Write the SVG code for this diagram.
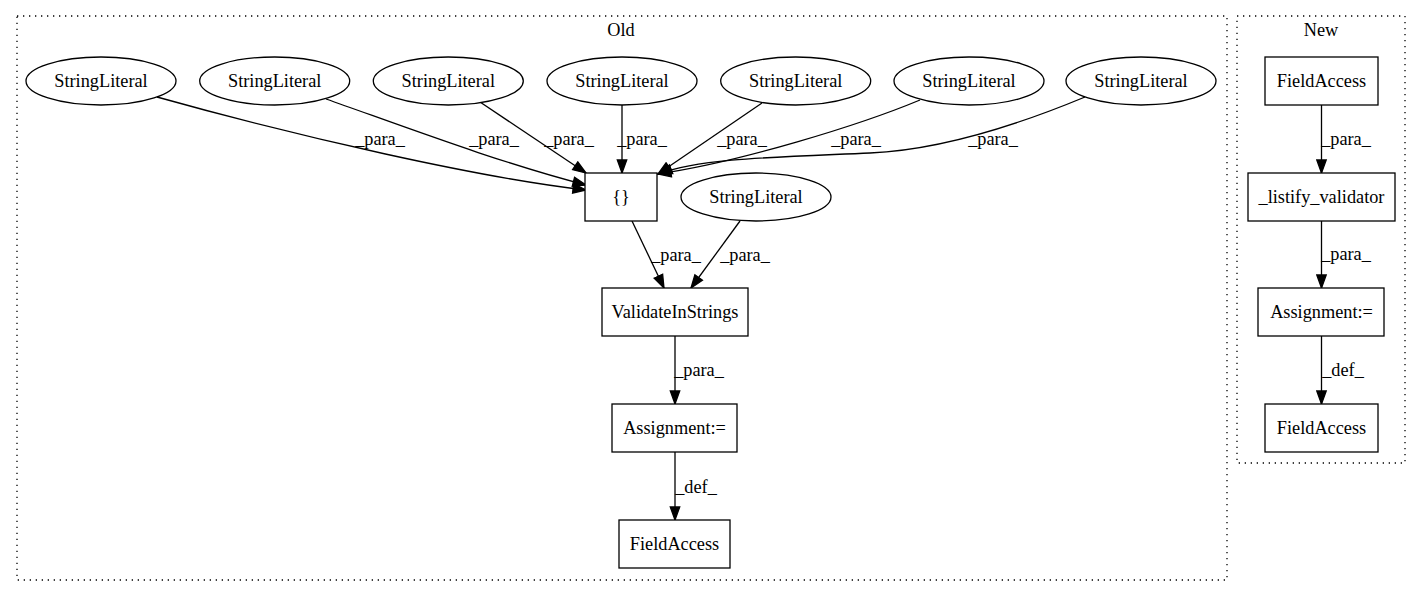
<svg xmlns="http://www.w3.org/2000/svg" width="1421" height="596" viewBox="0 0 1421 596">
  <style>
    text { font-family: "Liberation Serif", "Times New Roman", serif; font-size: 18.3px; fill: #000; text-anchor: middle; }
    .cluster { fill: none; stroke: #000; stroke-width: 1.3; stroke-dasharray: 1.3 4.7; }
    .node { fill: #fff; stroke: #000; stroke-width: 1.3; }
    .edge { fill: none; stroke: #000; stroke-width: 1.3; marker-end: url(#arrow); }
  </style>
  <defs>
    <marker id="arrow" markerUnits="userSpaceOnUse" viewBox="-1 -6 15 12" markerWidth="15" markerHeight="12" refX="13" refY="0" orient="auto">
      <path d="M0,-4.7 L13,0 L0,4.7 Z" fill="#000" stroke="#000" stroke-width="1.3"/>
    </marker>
  </defs>
  <rect width="1421" height="596" fill="#fff"/>

  <!-- clusters -->
  <g id="cluster-old">
    <rect class="cluster" x="17" y="16" width="1210" height="564"/>
    <text x="621" y="36">Old</text>
  </g>
  <g id="cluster-new">
    <rect class="cluster" x="1237" y="16" width="168" height="447"/>
    <text x="1321" y="36">New</text>
  </g>

  <!-- connectors -->
  <g id="edges">
    <path class="edge" d="M157,97 C300,137 480,178 586,190"/>
    <path class="edge" d="M326,99 C400,125 500,163 586,185"/>
    <path class="edge" d="M480,102 L586,173"/>
    <path class="edge" d="M622,105 L622,173"/>
    <path class="edge" d="M762,103 L658,174"/>
    <path class="edge" d="M920,100 C860,125 740,162 658,174"/>
    <path class="edge" d="M1085,97 C1020,124 940,150 870,153 C780,157 700,158 659,174"/>
    <path class="edge" d="M632,221 L664,288"/>
    <path class="edge" d="M740,221 L691,288"/>
    <path class="edge" d="M675,336 L675,404"/>
    <path class="edge" d="M675,452 L675,520"/>
    <path class="edge" d="M1321.5,105 L1321.5,173"/>
    <path class="edge" d="M1321.5,221 L1321.5,288"/>
    <path class="edge" d="M1321.5,336 L1321.5,404"/>

    <text x="380" y="145">_para_</text>
    <text x="494" y="145">_para_</text>
    <text x="569" y="145">_para_</text>
    <text x="642" y="145">_para_</text>
    <text x="742" y="145">_para_</text>
    <text x="856" y="145">_para_</text>
    <text x="993" y="145">_para_</text>
    <text x="676" y="261">_para_</text>
    <text x="745" y="261">_para_</text>
    <text x="699" y="376">_para_</text>
    <text x="696" y="493">_def_</text>
    <text x="1346" y="145">_para_</text>
    <text x="1346" y="260">_para_</text>
    <text x="1343" y="376">_def_</text>
  </g>

  <!-- Old nodes -->
  <g id="sl1"><ellipse class="node" cx="101" cy="81" rx="75" ry="24"/><text x="101" y="87">StringLiteral</text></g>
  <g id="sl2"><ellipse class="node" cx="274.7" cy="81" rx="75" ry="24"/><text x="274.7" y="87">StringLiteral</text></g>
  <g id="sl3"><ellipse class="node" cx="448.3" cy="81" rx="75" ry="24"/><text x="448.3" y="87">StringLiteral</text></g>
  <g id="sl4"><ellipse class="node" cx="622" cy="81" rx="75" ry="24"/><text x="622" y="87">StringLiteral</text></g>
  <g id="sl5"><ellipse class="node" cx="795.7" cy="81" rx="75" ry="24"/><text x="795.7" y="87">StringLiteral</text></g>
  <g id="sl6"><ellipse class="node" cx="969" cy="81" rx="75" ry="24"/><text x="969" y="87">StringLiteral</text></g>
  <g id="sl7"><ellipse class="node" cx="1141" cy="81" rx="75" ry="24"/><text x="1141" y="87">StringLiteral</text></g>
  <g id="braces"><rect class="node" x="585" y="173" width="72" height="48"/><text x="621" y="203">{}</text></g>
  <g id="sl8"><ellipse class="node" cx="756" cy="197" rx="75" ry="24"/><text x="756" y="203">StringLiteral</text></g>
  <g id="validate"><rect class="node" x="602" y="288" width="146" height="48"/><text x="675" y="318">ValidateInStrings</text></g>
  <g id="assign-old"><rect class="node" x="612" y="404" width="125" height="48"/><text x="674.5" y="434">Assignment:=</text></g>
  <g id="field-old"><rect class="node" x="619" y="520" width="111" height="48"/><text x="674.5" y="550">FieldAccess</text></g>

  <!-- New nodes -->
  <g id="field-new-src"><rect class="node" x="1265" y="57" width="113" height="48"/><text x="1321.5" y="87">FieldAccess</text></g>
  <g id="listify"><rect class="node" x="1248" y="173" width="147" height="48"/><text x="1321.5" y="203">_listify_validator</text></g>
  <g id="assign-new"><rect class="node" x="1258" y="288" width="126" height="48"/><text x="1321.5" y="318">Assignment:=</text></g>
  <g id="field-new"><rect class="node" x="1265" y="404" width="113" height="48"/><text x="1321.5" y="434">FieldAccess</text></g>
</svg>
